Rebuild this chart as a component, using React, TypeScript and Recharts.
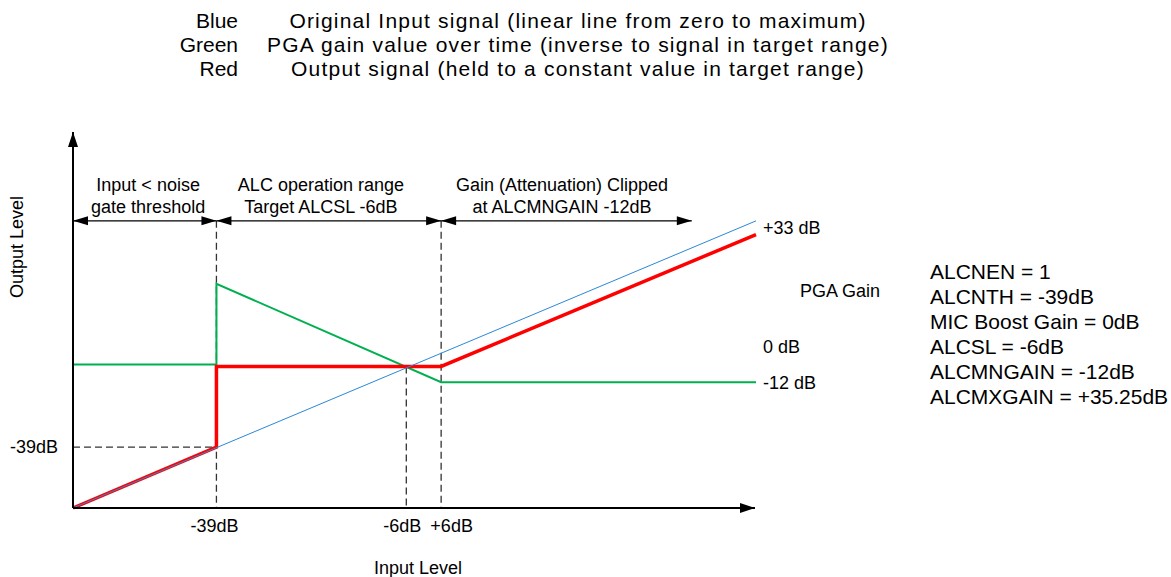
import { Line, LineChart, XAxis, YAxis } from "recharts";

// ALC transfer diagram: input level (x) vs output level (y), arbitrary linear units.
const FONT = '"Liberation Sans", Arial, Helvetica, sans-serif';

const legendKeys = ["Blue", "Green", "Red"];
const legendTexts = [
  "Original Input signal (linear line from zero to maximum)",
  "PGA gain value over time (inverse to signal in target range)",
  "Output signal (held to a constant value in target range)",
];

const settings = [
  "ALCNEN = 1",
  "ALCNTH = -39dB",
  "MIC Boost Gain = 0dB",
  "ALCSL = -6dB",
  "ALCMNGAIN = -12dB",
  "ALCMXGAIN = +35.25dB",
];

// series
const inputSignal = [
  { x: 0, y: 0 },
  { x: 100, y: 42 },
];
const outputSignal = [
  { x: 0, y: 0 },
  { x: 21, y: 8.9 },
  { x: 21, y: 20.7 },
  { x: 53.9, y: 20.7 },
  { x: 100, y: 40 },
];
const pgaGain = [
  { x: 0, y: 21 },
  { x: 21, y: 21 },
  { x: 21, y: 32.8 },
  { x: 53.9, y: 18.4 },
  { x: 100, y: 18.4 },
];

// axes with arrow heads
const xAxisLine = [
  { x: 0, y: 0 },
  { x: 99.85, y: 0 },
];
const yAxisLine = [
  { x: 0, y: 0 },
  { x: 0, y: 55 },
];

// region arrows (y = 42)
const regionArrows = [
  [{ x: 0, y: 42 }, { x: 21, y: 42 }],
  [{ x: 21, y: 42 }, { x: 53.9, y: 42 }],
  [{ x: 53.9, y: 42 }, { x: 90.6, y: 42 }],
];
const regionLabels = [
  { x: 11, lines: ["Input < noise", "gate threshold"] },
  { x: 36.3, lines: ["ALC operation range", "Target ALCSL -6dB"] },
  { x: 71.6, lines: ["Gain (Attenuation) Clipped", "at ALCMNGAIN -12dB"] },
];

// dashed guides
const guides = [
  [{ x: 21, y: 42 }, { x: 21, y: 0 }],
  [{ x: 53.9, y: 42 }, { x: 53.9, y: 0 }],
  [{ x: 48.8, y: 20.7 }, { x: 48.8, y: 0 }],
  [{ x: 0, y: 8.9 }, { x: 21, y: 8.9 }],
];

const xTicks = [21, 48.8, 53.9];
const xTickLabels = ["-39dB", "-6dB", "+6dB"];
const xTickShift = [-2, -4, 10.5];
const leftTicks = [8.9];
const leftTickLabels = ["-39dB"];
const rightTicks = [41, 23.5, 18.3];
const rightTickLabels = ["+33 dB", "0 dB", "-12 dB"];

type Dir = "left" | "right" | "up";

function head(cx: number, cy: number, dir: Dir, len: number, half: number, key: string) {
  let pts = "";
  if (dir === "right") pts = `${cx},${cy} ${cx - len},${cy - half} ${cx - len},${cy + half}`;
  if (dir === "left") pts = `${cx},${cy} ${cx + len},${cy - half} ${cx + len},${cy + half}`;
  if (dir === "up") pts = `${cx},${cy} ${cx - half},${cy + len} ${cx + half},${cy + len}`;
  return <polygon key={key} points={pts} fill="#000" />;
}

function heads(start: Dir | null, end: Dir | null, last: number, len = 15, half = 5) {
  return (p: any) => {
    const k = `h-${p.index}`;
    if (p.index === 0 && start) return head(p.cx, p.cy, start, len, half, k);
    if (p.index === last && end) return head(p.cx, p.cy, end, len, half, k);
    return <g key={k} />;
  };
}

export default function App() {
  return (
    <div style={{ position: "absolute", left: 0, top: 0, width: 1171, height: 577, background: "#fff" }}>
      <LineChart
        width={1171}
        height={577}
        margin={{ top: 132, right: 355, bottom: 29, left: 13 }}
        style={{ fontFamily: FONT }}
      >
        <XAxis
          type="number"
          dataKey="x"
          domain={[0, 100]}
          ticks={xTicks}
          height={40}
          axisLine={false}
          tickLine={false}
          tickSize={0}
          tickMargin={0}
          interval={0}
          tick={(p: any) => (
            <text
              key={`xt-${p.index}`}
              x={p.x + xTickShift[p.index]}
              y={p.y + 24}
              textAnchor="middle"
              fontSize={18}
              fill="#000"
              fontFamily={FONT}
            >
              {xTickLabels[p.index]}
            </text>
          )}
        />
        <YAxis
          yAxisId="l"
          type="number"
          domain={[0, 55]}
          ticks={leftTicks}
          width={60}
          axisLine={false}
          tickLine={false}
          tickSize={0}
          tickMargin={0}
          interval={0}
          tick={(p: any) => (
            <text
              key={`lt-${p.index}`}
              x={p.x - 15}
              y={p.y + 6}
              textAnchor="end"
              fontSize={18}
              fill="#000"
              fontFamily={FONT}
            >
              {leftTickLabels[p.index]}
            </text>
          )}
        />
        <YAxis
          yAxisId="r"
          orientation="right"
          type="number"
          domain={[0, 55]}
          ticks={rightTicks}
          width={60}
          axisLine={false}
          tickLine={false}
          tickSize={0}
          tickMargin={0}
          interval={0}
          tick={(p: any) => (
            <text
              key={`rt-${p.index}`}
              x={p.x + 7}
              y={p.y + 6}
              textAnchor="start"
              fontSize={18}
              fill="#000"
              fontFamily={FONT}
            >
              {rightTickLabels[p.index]}
            </text>
          )}
        />

        {guides.map((g, i) => (
          <Line
            key={`g${i}`}
            yAxisId="l"
            data={g}
            dataKey="y"
            type="linear"
            stroke="#333"
            strokeWidth={1.3}
            strokeDasharray="7 4"
            dot={false}
            activeDot={false}
            isAnimationActive={false}
          />
        ))}

        <Line yAxisId="r" data={pgaGain} dataKey="y" type="linear" stroke="#00b050" strokeWidth={2}
          dot={false} activeDot={false} isAnimationActive={false} />
        <Line yAxisId="l" data={outputSignal} dataKey="y" type="linear" stroke="#ff0000" strokeWidth={3.5}
          dot={false} activeDot={false} isAnimationActive={false} />
        <Line yAxisId="l" data={inputSignal} dataKey="y" type="linear" stroke="#2c87d6" strokeWidth={1}
          dot={false} activeDot={false} isAnimationActive={false} />

        {regionArrows.map((a, i) => (
          <Line
            key={`a${i}`}
            yAxisId="l"
            data={a}
            dataKey="y"
            type="linear"
            stroke="#000"
            strokeWidth={1.3}
            dot={heads("left", "right", a.length - 1, 15, 4.5)}
            activeDot={false}
            isAnimationActive={false}
          />
        ))}

        <Line yAxisId="l" data={xAxisLine} dataKey="y" type="linear" stroke="#000" strokeWidth={2}
          dot={heads(null, "right", 1)} activeDot={false} isAnimationActive={false} />
        <Line yAxisId="l" data={yAxisLine} dataKey="y" type="linear" stroke="#000" strokeWidth={2}
          dot={heads(null, "up", 1)} activeDot={false} isAnimationActive={false} />

        <g fontFamily={FONT} fill="#000">
          {legendKeys.map((k, i) => (
            <text key={`lk${i}`} x={238} y={28 + i * 24} textAnchor="end" fontSize={21}>
              {k}
            </text>
          ))}
          {legendTexts.map((t, i) => (
            <text key={`lt${i}`} x={578} y={28 + i * 24} textAnchor="middle" fontSize={21} letterSpacing={1.2}>
              {t}
            </text>
          ))}
          {regionLabels.map((r, i) =>
            r.lines.map((l, j) => (
              <text key={`r${i}-${j}`} x={73 + r.x * 6.83} y={191 + j * 22} textAnchor="middle" fontSize={18}>
                {l}
              </text>
            )),
          )}
          <text x={800} y={297} fontSize={18}>PGA Gain</text>
          {settings.map((s, i) => (
            <text key={`s${i}`} x={930} y={279 + i * 25} fontSize={21}>
              {s}
            </text>
          ))}
          <text x={418} y={574} textAnchor="middle" fontSize={18}>Input Level</text>
          <text
            x={17}
            y={247}
            textAnchor="middle"
            dominantBaseline="central"
            fontSize={18}
            transform="rotate(-90 17 247)"
          >
            Output Level
          </text>
        </g>
      </LineChart>
    </div>
  );
}
